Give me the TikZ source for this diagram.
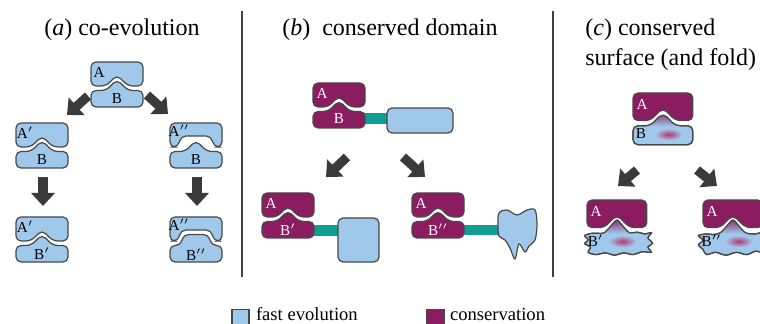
\documentclass[tikz,border=0pt]{standalone}
\usepackage{fontspec}
\setmainfont{Liberation Serif}
\usetikzlibrary{positioning, arrows.meta}
\definecolor{fastblue}{RGB}{160,200,234}
\definecolor{keptmag}{RGB}{140,28,96}
\definecolor{blobmag}{RGB}{182,52,118}
\definecolor{linkteal}{RGB}{16,158,148}
\definecolor{edgegray}{RGB}{72,72,72}
\definecolor{arrowgray}{RGB}{58,58,58}

\newcommand{\topPeak}{(0,24) -- (0,0) -- (52,0) -- (52,24) -- (37,24) -- (26,13) -- (15,24) -- cycle}
\newcommand{\topArch}{(0,24) -- (0,0) -- (52,0) -- (52,24) -- (44,24) -- (41,13) -- (11,13) -- (8,24) -- cycle}
\newcommand{\botPeak}{(0,28.5) -- (15,28.5) -- (26,17.5) -- (37,28.5) -- (52,28.5) -- (52,45) -- (0,45) -- cycle}
\newcommand{\botArch}{(0,28.5) -- (10.5,28.5) -- (13.5,17.5) -- (38.5,17.5) -- (41.5,28.5) -- (52,28.5) -- (52,45) -- (0,45) -- cycle}
\newcommand{\wavyB}{plot[smooth cycle, tension=0.5] coordinates {(-2,31) (4,29) (10,29) (15,28.5) (20.5,23) (26,17.5) (31.5,23) (37,28.5) (44,28) (50,29.5) (56,28.5) (53,33) (57,37.5) (53,41) (56,45.5) (48,45) (40,47.5) (32,46) (24,48) (16,46) (8,47.5) (1,45.5) (3,41) (-2,38) (1,34.5)}}
\newcommand{\wavyBB}{plot[smooth cycle, tension=0.5] coordinates {(-4,31) (3,29.5) (9,30) (15,28.5) (20.5,23) (26,17.5) (31.5,23) (37,28.5) (45,29.5) (53,28) (59,31) (55,35.5) (59,40) (54,46) (46,44.5) (38,47.5) (29,45.5) (20,48) (11,45.5) (3,47.5) (0,43) (-4,39) (0,35)}}

\tikzset{
  fastpart/.style={draw=edgegray, fill=fastblue, line width=0.6pt, rounded corners=2.5pt},
  keptpart/.style={fastpart, fill=keptmag},
  outline/.style={draw=edgegray, line width=0.6pt, rounded corners=2.5pt},
  blobpart/.style={draw=edgegray, fill=fastblue, line width=0.6pt},
  blobline/.style={draw=edgegray, line width=0.6pt},
  linker/.style={fill=linkteal},
  evo/.style={draw=arrowgray, line width=4.6pt, -{Triangle[length=6.5pt, width=11.5pt]}},
  divider/.style={draw=black!75, line width=0.7pt},
  title/.style={font=\fontsize{12}{15}\selectfont, inner sep=0pt},
  lbl/.style={font=\fontsize{7.6}{9}\selectfont, inner sep=0pt},
  wlbl/.style={lbl, text=white},
  legsq/.style={draw=edgegray, line width=0.6pt, minimum size=8.5pt, inner sep=0pt},
  legtext/.style={font=\fontsize{9.3}{11}\selectfont, inner sep=0pt},
}

\begin{document}
\begin{tikzpicture}[x=0.5pt, y=-0.5pt]
    \useasboundingbox (0,0) rectangle (760,324);
    \clip (0,0) rectangle (760,324);

    \node[title, anchor=base] (ta) at (122,35.5) {(\textit{a}) co-evolution};
    \node[title, anchor=base] (tb) at (390,35.5) {(\textit{b})~ conserved domain};
    \node[title, anchor=base west] (tc) at (585,35.5) {(\textit{c}) conserved};
    \node[title, anchor=base west] (tc2) at (585,65.5) {surface (and fold)};

    \draw[divider] (242,11) -- (242,277);
    \draw[divider] (553,11) -- (553,277);

    % (a) co-evolution
    \begin{scope}[shift={(91,62)}]
        \draw[fastpart] \topPeak;
        \draw[fastpart] \botPeak;
        \node[lbl] (aA0) at (8,10) {A};
        \node[lbl] (aB0) at (26,36.5) {B};
    \end{scope}
    \begin{scope}[shift={(16,123)}]
        \draw[fastpart] \topPeak;
        \draw[fastpart] \botPeak;
        \node[lbl] (aA1) at (9,10) {A$'$};
        \node[lbl] (aB1) at (26,36.5) {B};
    \end{scope}
    \begin{scope}[shift={(170,123)}]
        \draw[fastpart] \topArch;
        \draw[fastpart] \botPeak;
        \node[lbl] (aA2) at (9,8) {A$''$};
        \node[lbl] (aB2) at (26,36.5) {B};
    \end{scope}
    \begin{scope}[shift={(16,217)}]
        \draw[fastpart] \topPeak;
        \draw[fastpart] \botPeak;
        \node[lbl] (aA3) at (9,10) {A$'$};
        \node[lbl] (aB3) at (26,37) {B$'$};
    \end{scope}
    \begin{scope}[shift={(170,217)}]
        \draw[fastpart] \topArch;
        \draw[fastpart] \botArch;
        \node[lbl] (aA4) at (9,8) {A$''$};
        \node[lbl] (aB4) at (26,37.5) {B$''$};
    \end{scope}

    \coordinate (a1s) at (88,96);
    \coordinate (a1e) at (67,115);
    \coordinate (a2s) at (147,95);
    \coordinate (a2e) at (168,114);
    \coordinate (a3s) at (43,177);
    \coordinate (a3e) at (43,206);
    \coordinate (a4s) at (197,177);
    \coordinate (a4e) at (197,206);
    \draw[evo] (a1s) -- (a1e);
    \draw[evo] (a2s) -- (a2e);
    \draw[evo] (a3s) -- (a3e);
    \draw[evo] (a4s) -- (a4e);

    % (b) conserved domain
    \fill[linker] (364,113) rectangle (389,124);
    \draw[fastpart] (387,108) rectangle (453,133);
    \begin{scope}[shift={(313,83)}]
        \draw[keptpart] \topPeak;
        \draw[keptpart] \botPeak;
        \node[wlbl] (bA0) at (9,10) {A};
        \node[wlbl] (bB0) at (26,36) {B};
    \end{scope}

    \fill[linker] (313,225) rectangle (340,236);
    \draw[fastpart] (338,218) rectangle (379,262);
    \begin{scope}[shift={(262,193)}]
        \draw[keptpart] \topPeak;
        \draw[keptpart] \botPeak;
        \node[wlbl] (bA1) at (9,10) {A};
        \node[wlbl] (bB1) at (26,36.5) {B$'$};
    \end{scope}

    \fill[linker] (463,225) rectangle (502,235);
    \draw[blobpart] plot[smooth cycle, tension=0.55] coordinates {(499,213) (507,210) (517,215) (527,210) (535,210) (537,225) (535,240) (529,246) (525,252) (519,244) (515,259) (510,248) (505,240) (499,236) (498,225)};
    \begin{scope}[shift={(412,193)}]
        \draw[keptpart] \topPeak;
        \draw[keptpart] \botPeak;
        \node[wlbl] (bA2) at (9,10) {A};
        \node[wlbl] (bB2) at (26,36.5) {B$''$};
    \end{scope}

    \coordinate (b1s) at (347,157);
    \coordinate (b1e) at (326,177);
    \coordinate (b2s) at (403,157);
    \coordinate (b2e) at (425,177);
    \draw[evo] (b1s) -- (b1e);
    \draw[evo] (b2s) -- (b2e);

    % (c) conserved surface
    \begin{scope}[shift={(633,93)}, scale=1.15]
        \draw[keptpart] \topPeak;
        \draw[fastpart] \botPeak;
        \begin{scope}
            \clip[rounded corners=2.5pt] \botPeak;
            \shade[top color=keptmag, bottom color=fastblue] (12,16) rectangle (40,29);
            \shade[inner color=blobmag, outer color=fastblue] (31,36) ellipse [x radius=12, y radius=5];
        \end{scope}
        \draw[outline] \botPeak;
        \node[wlbl] (cA0) at (8,10) {A};
        \node[lbl] (cB0) at (7,35.5) {B};
    \end{scope}
    \begin{scope}[shift={(587,200)}, scale=1.15]
        \draw[keptpart] \topPeak;
        \draw[blobpart] \wavyB;
        \begin{scope}
            \clip \wavyB;
            \shade[top color=keptmag, bottom color=fastblue] (12,16) rectangle (40,29);
            \shade[inner color=blobmag, outer color=fastblue] (31,36) ellipse [x radius=12, y radius=5];
        \end{scope}
        \draw[blobline] \wavyB;
        \node[wlbl] (cA1) at (8,10) {A};
        \node[lbl] (cB1) at (7.5,35.5) {B$'$};
    \end{scope}
    \begin{scope}[shift={(703,200)}, scale=1.15]
        \draw[keptpart] \topPeak;
        \draw[blobpart] \wavyBB;
        \begin{scope}
            \clip \wavyBB;
            \shade[top color=keptmag, bottom color=fastblue] (12,16) rectangle (40,29);
            \shade[inner color=blobmag, outer color=fastblue] (31,36) ellipse [x radius=12, y radius=5];
        \end{scope}
        \draw[blobline] \wavyBB;
        \node[wlbl] (cA2) at (8,10) {A};
        \node[lbl] (cB2) at (7.5,35.5) {B$''$};
    \end{scope}

    \coordinate (c1s) at (637,170);
    \coordinate (c1e) at (618,186);
    \coordinate (c2s) at (697,170);
    \coordinate (c2e) at (717,186);
    \draw[evo] (c1s) -- (c1e);
    \draw[evo] (c2s) -- (c2e);

    % legend
    \node[legsq, fill=fastblue] (lfast) at (240.5,318) {};
    \node[legtext, right=3pt of lfast, yshift=2pt] (tfast) {fast evolution};
    \node[legsq, fill=keptmag] (lkept) at (435.5,318) {};
    \node[legtext, right=2.5pt of lkept, yshift=2pt] (tkept) {conservation};
\end{tikzpicture}
\end{document}
